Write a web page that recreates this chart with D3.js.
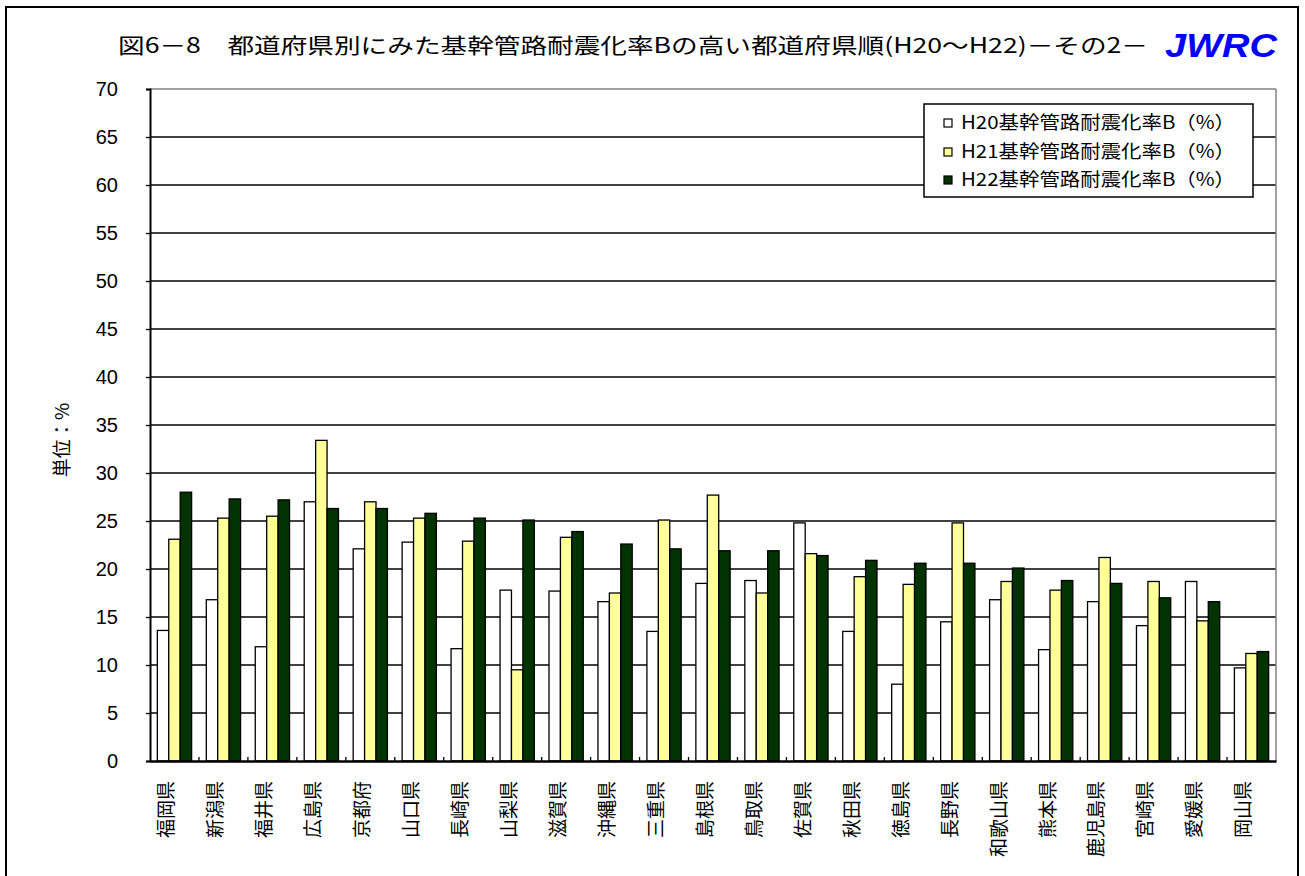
<!DOCTYPE html>
<html><head><meta charset="utf-8">
<script src="https://cdn.jsdelivr.net/npm/d3@7"></script>
<style>
html,body{margin:0;padding:0;background:#fff;}
svg{display:block;font-family:"Noto Sans CJK JP","Noto Sans",sans-serif;}
</style></head>
<body>
<svg id="chart" width="1305" height="876"></svg>
<script>
const categories = ["福岡県","新潟県","福井県","広島県","京都府","山口県","長崎県","山梨県","滋賀県","沖縄県","三重県","島根県","鳥取県","佐賀県","秋田県","徳島県","長野県","和歌山県","熊本県","鹿児島県","宮崎県","愛媛県","岡山県"];
const h20 = [13.6,16.8,11.9,27.0,22.1,22.8,11.7,17.8,17.7,16.6,13.5,18.5,18.8,24.8,13.5,8.0,14.5,16.8,11.6,16.6,14.1,18.7,9.7];
const h21 = [23.1,25.3,25.5,33.4,27.0,25.3,22.9,9.5,23.3,17.5,25.1,27.7,17.5,21.6,19.2,18.4,24.8,18.7,17.8,21.2,18.7,14.6,11.2];
const h22 = [28.0,27.3,27.2,26.3,26.3,25.8,25.3,25.1,23.9,22.6,22.1,21.9,21.9,21.4,20.9,20.6,20.6,20.1,18.8,18.5,17.0,16.6,11.4];
const seriesNames = ["H20基幹管路耐震化率B（%）","H21基幹管路耐震化率B（%）","H22基幹管路耐震化率B（%）"];
const seriesColors = ["#FFFFFF","#FFFF99","#003300"];
const yTicks = [0,5,10,15,20,25,30,35,40,45,50,55,60,65,70];
const titleText = "図6－8　都道府県別にみた基幹管路耐震化率Bの高い都道府県順(H20～H22)－その2－";
const yTitle = "単位：%";

const svg = d3.select("#chart");
const L = 150, R = 1276, T = 89, B = 761;

// outer frame
svg.append("rect").attr("x",6).attr("y",7).attr("width",1292).attr("height",880)
  .attr("fill","#fff").attr("stroke","#000").attr("stroke-width",2);

// title
svg.append("text").attr("x",118).attr("y",53).attr("font-size",21).attr("fill","#000")
  .attr("textLength",1030).attr("lengthAdjust","spacingAndGlyphs").text(titleText);
svg.append("text").attr("x",1165).attr("y",57).attr("font-size",33).attr("font-weight","bold")
  .attr("font-style","italic").attr("font-family","Liberation Sans, Arial, sans-serif")
  .attr("fill","#0000FF").attr("textLength",112).attr("lengthAdjust","spacingAndGlyphs").text("JWRC");

const y = d3.scaleLinear().domain([0,70]).range([B,T]);
const x = d3.scaleBand().domain(categories).range([L,R]).padding(0);
const step = x.bandwidth();
const xs = d3.scaleBand().domain([0,1,2]).range([0, step*0.7]).padding(0);
const off = step*0.15;

// gridlines
svg.append("g").selectAll("line").data(yTicks.filter(d=>d>0 && d<70)).join("line")
  .attr("x1",L).attr("x2",R).attr("y1",d=>y(d)).attr("y2",d=>y(d))
  .attr("stroke","#000").attr("stroke-width",1.3);
// top & right border gray
svg.append("line").attr("x1",L).attr("x2",R).attr("y1",y(70)).attr("y2",y(70)).attr("stroke","#808080").attr("stroke-width",1.5);
svg.append("line").attr("x1",R).attr("x2",R).attr("y1",T).attr("y2",B).attr("stroke","#808080").attr("stroke-width",1.5);

// bars
const series = [h20,h21,h22];
series.forEach((vals,si)=>{
  svg.append("g").selectAll("rect").data(categories).join("rect")
    .attr("x",(c,i)=>x(c)+off+xs(si))
    .attr("width",xs.bandwidth())
    .attr("y",(c,i)=>y(vals[i]))
    .attr("height",(c,i)=>B-y(vals[i]))
    .attr("fill",seriesColors[si]).attr("stroke","#000").attr("stroke-width",1.3);
});

// y axis
const yAxis = d3.axisLeft(y).tickValues(yTicks).tickSize(4).tickPadding(28).tickFormat(d3.format("d"));
const gy = svg.append("g").attr("transform",`translate(${L},0)`).call(yAxis);
gy.select(".domain").attr("stroke","#000").attr("stroke-width",2);
gy.selectAll(".tick line").attr("stroke","#000").attr("stroke-width",1.3);
gy.selectAll(".tick text").attr("font-size",20).attr("fill","#000")
  .attr("font-family","Liberation Sans, Arial, sans-serif");

// x axis
const xAxis = d3.axisBottom(x).tickSize(0).tickFormat("");
const gx = svg.append("g").attr("transform",`translate(0,${B})`).call(xAxis);
gx.select(".domain").attr("stroke","#000").attr("stroke-width",2.5);
// category boundary ticks (inward)
svg.append("g").selectAll("line").data(categories.slice(1)).join("line")
  .attr("x1",c=>x(c)).attr("x2",c=>x(c)).attr("y1",B).attr("y2",B-4)
  .attr("stroke","#000").attr("stroke-width",1.3);
// category labels rotated -90, top-aligned
svg.append("g").selectAll("text").data(categories).join("text")
  .attr("transform",c=>`translate(${x(c)+step/2-8},781) rotate(-90)`)
  .attr("text-anchor","end").attr("dy","0.36em")
  .attr("font-size",19).attr("fill","#000")
  .text(c=>c);

// y title
svg.append("text").attr("transform","translate(62,440) rotate(-90)")
  .attr("text-anchor","middle").attr("dy","0.36em").attr("font-size",19).attr("fill","#000").text(yTitle);

// legend
const lg = svg.append("g");
lg.append("rect").attr("x",924).attr("y",104).attr("width",329).attr("height",93)
  .attr("fill","#fff").attr("stroke","#000").attr("stroke-width",1.5);
const rows = [123,152,180];
seriesNames.forEach((n,i)=>{
  lg.append("rect").attr("x",944).attr("y",rows[i]-4).attr("width",8).attr("height",8)
    .attr("fill",seriesColors[i]).attr("stroke","#000").attr("stroke-width",1.2);
  lg.append("text").attr("x",961).attr("y",rows[i]+6).attr("font-size",18).attr("fill","#000")
    .attr("textLength",274).attr("lengthAdjust","spacingAndGlyphs").text(n);
});
</script>
</body></html>
